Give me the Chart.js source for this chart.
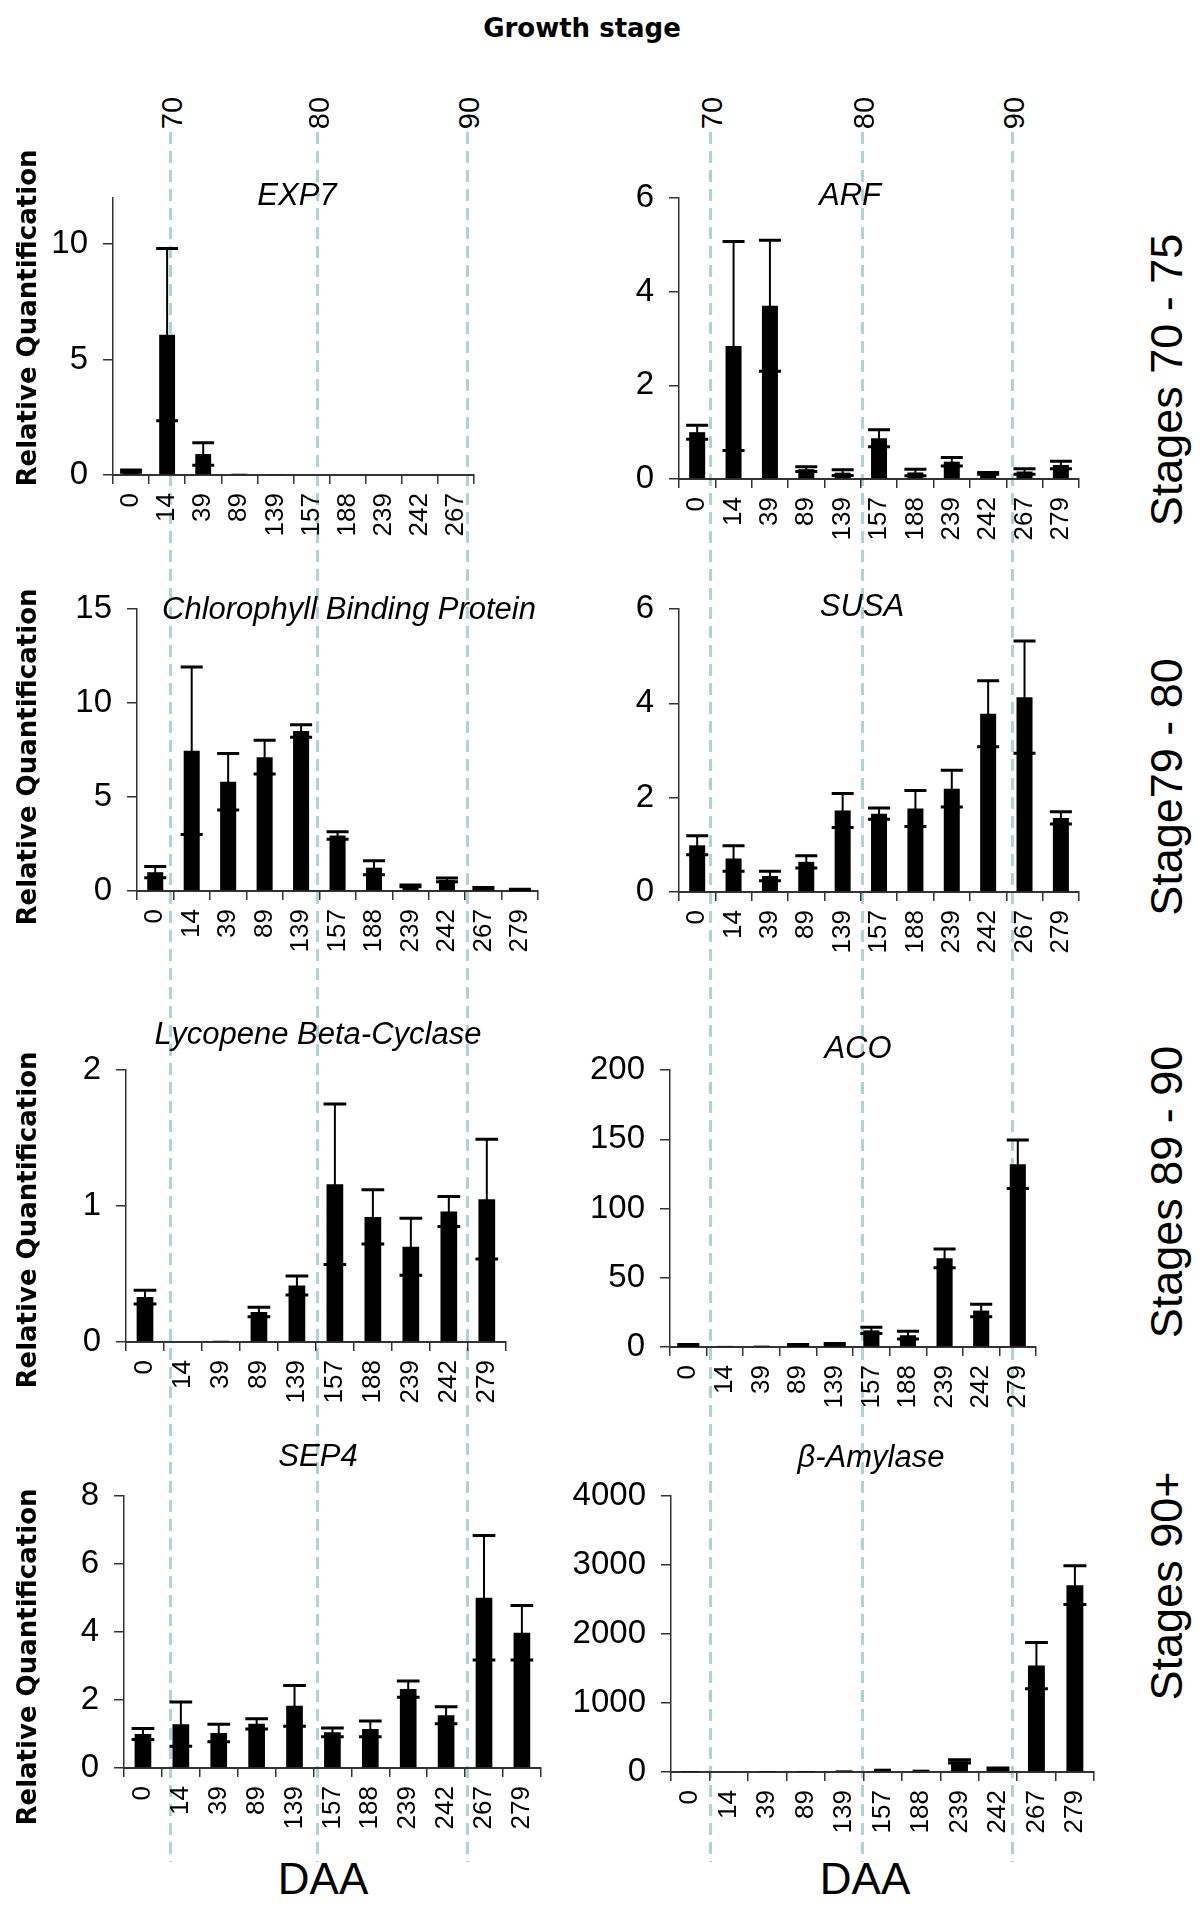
<!DOCTYPE html>
<html>
<head>
<meta charset="utf-8">
<script src="https://cdn.jsdelivr.net/npm/chart.js@4.4.0/dist/chart.umd.min.js"></script>
<style>
  body { margin: 0; background: #fff; }
  #page { position: relative; width: 1200px; height: 1919px; overflow: hidden; font-family: "Liberation Sans", Arial, sans-serif; }
  canvas { position: absolute; z-index: 2; }
  .txt { position: absolute; white-space: nowrap; color: #000; line-height: 1; z-index: 3; }
  .rot { transform: translate(-50%, -50%) rotate(-90deg); }
  .dash { position: absolute; width: 3px; z-index: 1;
    background: repeating-linear-gradient(to bottom, #a9d4d9 0 12px, transparent 12px 19px); }
</style>
</head>
<body>
<div id="page"></div>
<script>
// sampling days (DAA)
const daysExp7 = ['0', '14', '39', '89', '139', '157', '188', '239', '242', '267'];
const daysAll = ['0', '14', '39', '89', '139', '157', '188', '239', '242', '267', '279'];
const daysNo267 = ['0', '14', '39', '89', '139', '157', '188', '239', '242', '279'];

// means and error (+/-)
const exp7Mean = [0.17, 6.08, 0.91, 0.05, 0.02, 0.03, 0, 0, 0, 0];
const exp7Err  = [0.05, 3.73, 0.49, 0, 0, 0, 0, 0, 0, 0];

const arfMean = [1.0, 2.84, 3.7, 0.21, 0.135, 0.87, 0.14, 0.37, 0.12, 0.16, 0.3];
const arfErr  = [0.15, 2.23, 1.4, 0.05, 0.06, 0.18, 0.07, 0.09, 0.02, 0.06, 0.08];

const cbpMean = [1.0, 7.46, 5.81, 7.12, 8.51, 2.95, 1.24, 0.27, 0.59, 0.15, 0.08];
const cbpErr  = [0.3, 4.46, 1.5, 0.9, 0.33, 0.2, 0.37, 0.05, 0.1, 0.03, 0.01];

const susaMean = [0.99, 0.71, 0.34, 0.64, 1.73, 1.66, 1.77, 2.19, 3.78, 4.13, 1.57];
const susaErr  = [0.2, 0.27, 0.1, 0.13, 0.36, 0.12, 0.38, 0.39, 0.7, 1.19, 0.13];

const lbcMean = [0.33, 0.005, 0.01, 0.22, 0.415, 1.16, 0.92, 0.7, 0.96, 1.05];
const lbcErr  = [0.05, 0, 0, 0.035, 0.07, 0.59, 0.2, 0.21, 0.11, 0.44];

const acoMean = [1.5, 0.8, 1.0, 1.5, 2.0, 12, 8.5, 64, 26.3, 132];
const acoErr  = [0.3, 0, 0, 0.3, 0.6, 2.2, 2.8, 6.8, 4.5, 17.5];

const sep4Mean = [1.0, 1.29, 1.03, 1.3, 1.83, 1.05, 1.15, 2.32, 1.55, 5.01, 3.98];
const sep4Err  = [0.16, 0.65, 0.26, 0.15, 0.6, 0.13, 0.23, 0.24, 0.25, 1.83, 0.8];

const bamyMean = [3, 10, 5, 3, 24, 48, 34, 154, 48, 1542, 2708];
const bamyErr  = [0, 0, 0, 0, 0, 0, 0, 25, 10, 335, 280];

// axis ranges
const yMax  = [12, 6, 15, 6, 2, 200, 8, 4000];
const yStep = [5, 2, 5, 2, 1, 50, 2, 1000];

const stageTicks = ['70', '80', '90'];
const stageLabels = ['Stages 70 - 75', 'Stage79 - 80', 'Stages 89 - 90', 'Stages 90+'];

// layout of each panel: plot area box [left, top, right, bottom] and title spot
const panels = [
  { title: 'EXP7', labels: daysExp7, mean: exp7Mean, err: exp7Err, box: [113, 198, 477, 475], tx: 297, tb: 203 },
  { title: 'ARF', labels: daysAll, mean: arfMean, err: arfErr, box: [679, 198, 1082, 479], tx: 850, tb: 203 },
  { title: 'Chlorophyll Binding Protein', labels: daysAll, mean: cbpMean, err: cbpErr, box: [137, 609, 541, 891], tx: 349, tb: 617 },
  { title: 'SUSA', labels: daysAll, mean: susaMean, err: susaErr, box: [679, 609, 1082, 892], tx: 862, tb: 614 },
  { title: 'Lycopene Beta-Cyclase', labels: daysNo267, mean: lbcMean, err: lbcErr, box: [126, 1070, 508, 1342], tx: 318, tb: 1042 },
  { title: 'ACO', labels: daysNo267, mean: acoMean, err: acoErr, box: [670, 1070, 1039, 1347], tx: 858, tb: 1056 },
  { title: 'SEP4', labels: daysAll, mean: sep4Mean, err: sep4Err, box: [124, 1496, 543, 1768], tx: 318, tb: 1464 },
  { title: 'β-Amylase', labels: daysAll, mean: bamyMean, err: bamyErr, box: [671, 1496, 1096, 1772], tx: 871, tb: 1465 }
];

const page = document.getElementById('page');
const FONT = '"Liberation Sans", Arial, sans-serif';

function addText(text, x, y, css, rotated) {
  const d = document.createElement('div');
  d.className = 'txt' + (rotated ? ' rot' : '');
  d.textContent = text;
  d.style.cssText += css;
  d.style.left = x + 'px';
  d.style.top = y + 'px';
  page.appendChild(d);
  return d;
}

// error bars drawn from the y scale of each chart
const errorBars = {
  id: 'errorBars',
  afterDatasetsDraw(chart) {
    const ctx = chart.ctx;
    const ys = chart.scales.y;
    const ds = chart.data.datasets[0];
    const meta = chart.getDatasetMeta(0);
    ctx.save();
    ctx.strokeStyle = '#000';
    meta.data.forEach((bar, i) => {
      const e = ds.errs[i];
      if (!e) return;
      const v = ds.data[i];
      const hi = ys.getPixelForValue(v + e);
      const lo = ys.getPixelForValue(Math.max(v - e, 0));
      const half = bar.width / 2 + 3;
      ctx.lineWidth = 2;
      ctx.beginPath();
      ctx.moveTo(bar.x, lo);
      ctx.lineTo(bar.x, hi);
      ctx.stroke();
      ctx.lineWidth = 3;
      ctx.beginPath();
      ctx.moveTo(bar.x - half, hi);
      ctx.lineTo(bar.x + half, hi);
      ctx.moveTo(bar.x - half, lo);
      ctx.lineTo(bar.x + half, lo);
      ctx.stroke();
    });
    ctx.restore();
  }
};

// padding around plot area inside each canvas (top must exceed half label + tick padding)
const YW = 110, PT = 44, PR = 20, XH = 80;

panels.forEach((p, k) => {
  const [L, T, R, B] = p.box;
  const cv = document.createElement('canvas');
  const w = R - L + YW + PR, h = B - T + PT + XH;
  cv.width = w; cv.height = h;
  cv.style.left = (L - YW) + 'px';
  cv.style.top = (T - PT) + 'px';
  cv.style.width = w + 'px';
  cv.style.height = h + 'px';
  page.appendChild(cv);

  new Chart(cv.getContext('2d'), {
    type: 'bar',
    data: {
      labels: p.labels,
      datasets: [{
        data: p.mean,
        errs: p.err,
        backgroundColor: '#000',
        borderWidth: 0,
        barPercentage: 0.44,
        categoryPercentage: 1
      }]
    },
    options: {
      responsive: false,
      animation: false,
      layout: { padding: { top: PT, right: PR, left: 0, bottom: 0 } },
      plugins: { legend: { display: false }, tooltip: { enabled: false } },
      scales: {
        x: {
          grid: { drawOnChartArea: false, offset: true, tickLength: 9, color: '#333', lineWidth: 1.5 },
          border: { color: '#333', width: 2 },
          ticks: { minRotation: 90, maxRotation: 90, autoSkip: false, padding: 9, color: '#000',
                   font: { family: FONT, size: 26 } },
          afterFit: s => { s.height = XH; }
        },
        y: {
          min: 0, max: yMax[k],
          grid: { drawOnChartArea: false, tickLength: 10, color: '#333', lineWidth: 1.5 },
          border: { color: '#333', width: 1.5 },
          ticks: { stepSize: yStep[k], includeBounds: false, padding: 15, color: '#000',
                   font: { family: FONT, size: 33 }, callback: v => String(v) },
          afterFit: s => { s.width = YW; }
        }
      }
    },
    plugins: [errorBars]
  });

  addText(p.title, p.tx, p.tb - 0.85 * 31,
    'font: italic 31px ' + FONT + '; transform: translateX(-50%);');
});

// heading
addText('Growth stage', 582, 35 - 0.85 * 26,
  'font: bold 26px "DejaVu Sans", sans-serif; transform: translateX(-50%);');

// stage boundary lines with their labels
const lineXs = [170, 317, 467, 710, 862, 1012];
lineXs.forEach((x, i) => {
  const d = document.createElement('div');
  d.className = 'dash';
  d.style.left = (x - 1.5) + 'px';
  d.style.top = '132px';
  d.style.height = (1862 - 132) + 'px';
  page.appendChild(d);
  addText(stageTicks[i % 3], x + 2, 113, 'font: 29px ' + FONT + ';', true);
});

// row labels
const rowYs = [318, 757, 1220, 1657];
const stageYs = [380, 787, 1192, 1586];
rowYs.forEach((y, i) => {
  addText('Relative Quantification', 27, y, 'font: bold 26px "DejaVu Sans", sans-serif;', true);
  addText(stageLabels[i], 1167, stageYs[i], 'font: 45px ' + FONT + ';', true);
});

addText('DAA', 323, 1879, 'font: 44px ' + FONT + '; transform: translate(-50%, -50%);');
addText('DAA', 865, 1879, 'font: 44px ' + FONT + '; transform: translate(-50%, -50%);');
</script>
</body>
</html>
